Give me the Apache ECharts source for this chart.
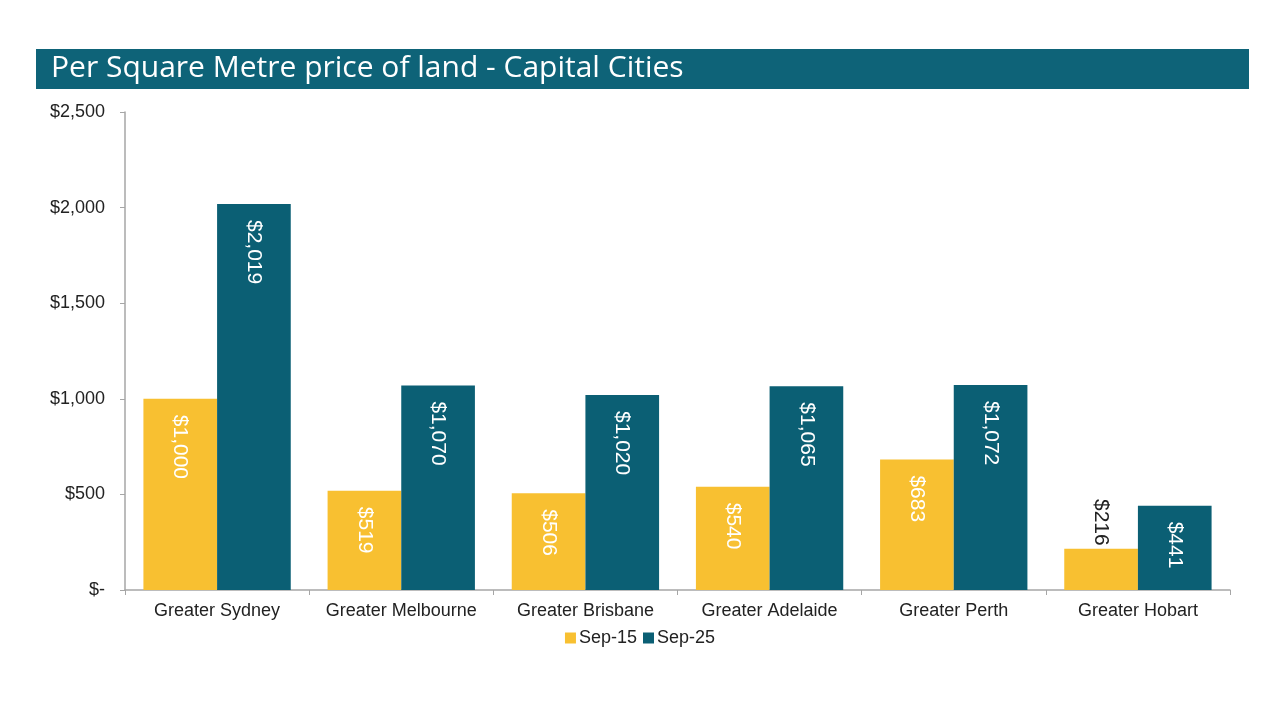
<!DOCTYPE html>
<html>
<head>
<meta charset="utf-8">
<script src="https://cdn.jsdelivr.net/npm/echarts@6/dist/echarts.min.js"></script>
<style>
html, body { margin: 0; padding: 0; background: #fff; }
#main { width: 1280px; height: 721px; }
</style>
</head>
<body>
<div id="main"></div>
<script>
// data
var cities = ['Greater Sydney', 'Greater Melbourne', 'Greater Brisbane', 'Greater Adelaide', 'Greater Perth', 'Greater Hobart'];
var sep15 = [1000, 519, 506, 540, 683, 216];
var sep25 = [2019, 1070, 1020, 1065, 1072, 441];
var seriesNames = ['Sep-15', 'Sep-25'];

var yellow = '#f8c031', teal = '#0b5f74';
var font = 'Liberation Sans, Arial, sans-serif';

function money(v) {
    if (v === 0) return '$-';
    return '$' + String(v).replace(/\B(?=(\d{3})+(?!\d))/g, ',');
}

// small bars get the label above the bar in dark text
function withLabels(arr) {
    return arr.map(function (v) {
        if (v < 300) {
            return { value: v, label: { position: 'top', align: 'right', color: '#222', distance: 3 } };
        }
        return v;
    });
}

var myChart = echarts.init(document.getElementById('main'));

var barLabel = {
    show: true,
    rotate: -90,
    position: 'insideTop',
    align: 'left',
    verticalAlign: 'middle',
    distance: 16,
    color: '#fff',
    fontFamily: font,
    fontSize: 21,
    formatter: function (p) { return money(p.value); }
};

var option = {
    animation: false,
    graphic: [{
        type: 'rect',
        shape: { x: 36, y: 49, width: 1213, height: 40 },
        style: { fill: '#0e6378' }
    }],
    title: {
        text: 'Per Square Metre price of land - Capital Cities',
        left: 46,
        top: 48,
        textStyle: { color: '#fff', fontSize: 30, fontWeight: 'normal', fontFamily: 'Open Sans, sans-serif' }
    },
    legend: {
        data: seriesNames,
        bottom: 69,
        left: 'center',
        itemWidth: 11,
        itemHeight: 11,
        itemGap: 6,
        icon: 'rect',
        textStyle: { fontSize: 18, color: '#222', fontFamily: font, padding: [0, 0, 0, -2] }
    },
    grid: { left: 125, right: 50, top: 112, bottom: 131 },
    xAxis: {
        type: 'category',
        data: cities,
        axisLine: { lineStyle: { color: '#a6a6a6', width: 1.5 } },
        axisTick: { show: true, length: 5, lineStyle: { color: '#a6a6a6' } },
        axisLabel: { color: '#222', fontSize: 18, margin: 12, interval: 0, fontFamily: font }
    },
    yAxis: {
        type: 'value',
        min: 0,
        max: 2500,
        interval: 500,
        splitLine: { show: false },
        axisLine: { show: true, lineStyle: { color: '#a6a6a6', width: 1.5 } },
        axisTick: { show: true, length: 5, lineStyle: { color: '#a6a6a6' } },
        axisLabel: { color: '#222', fontSize: 18, margin: 20, fontFamily: font, formatter: money }
    },
    series: [
        {
            name: seriesNames[0],
            type: 'bar',
            data: withLabels(sep15),
            itemStyle: { color: yellow },
            barWidth: '40%',
            barGap: '0%',
            label: barLabel
        },
        {
            name: seriesNames[1],
            type: 'bar',
            data: withLabels(sep25),
            itemStyle: { color: teal },
            barWidth: '40%',
            barGap: '0%',
            label: barLabel
        }
    ]
};

myChart.setOption(option);
</script>
</body>
</html>
